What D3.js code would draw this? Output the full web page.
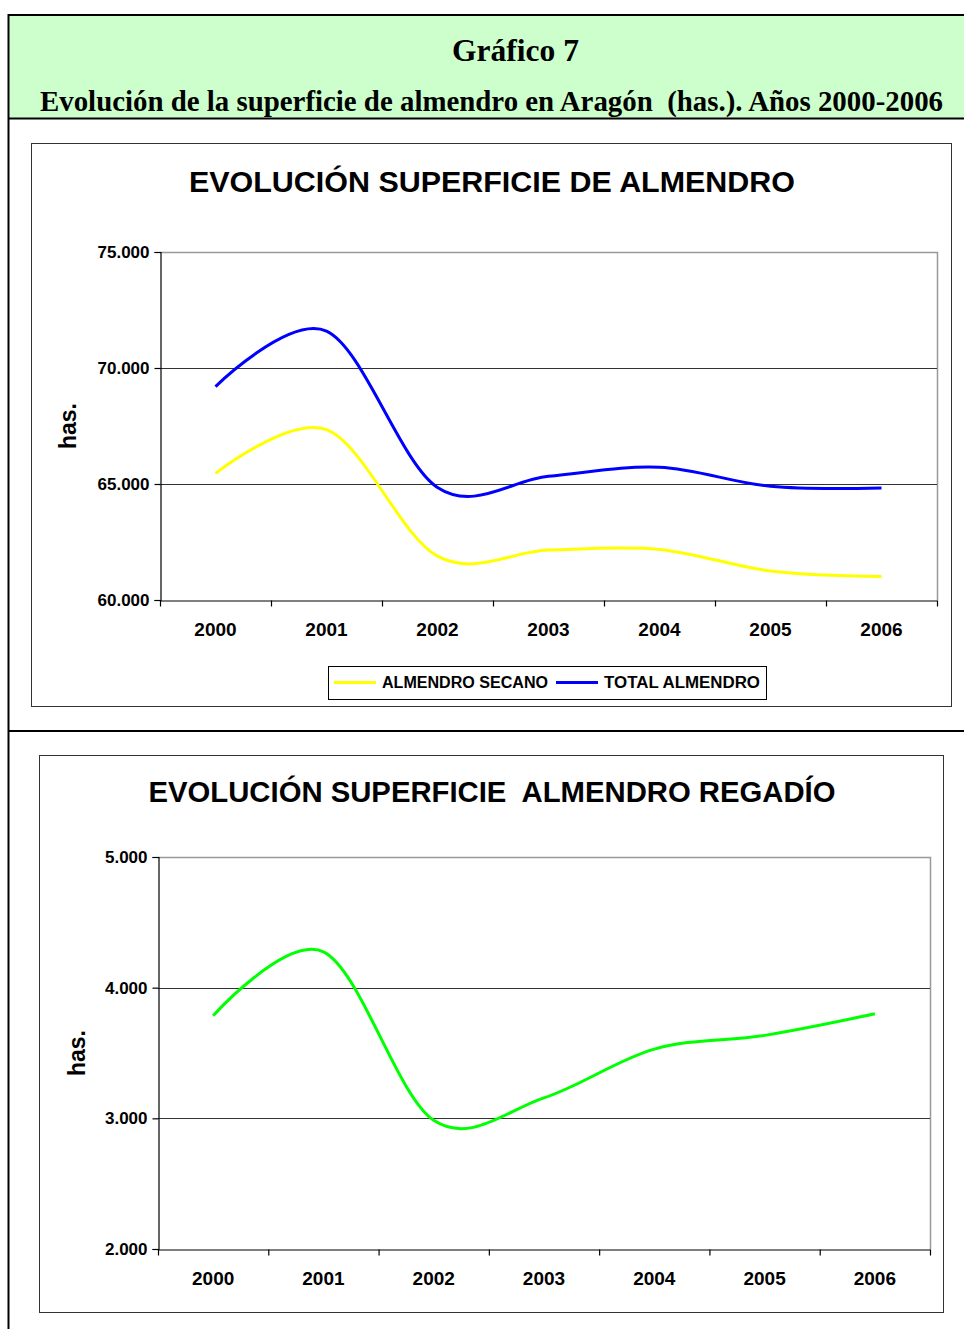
<!DOCTYPE html>
<html>
<head>
<meta charset="utf-8">
<script src="https://cdnjs.cloudflare.com/ajax/libs/d3/7.8.5/d3.min.js"></script>
<style>
  body { margin: 0; background: #fff; }
  svg text { font-family: "Liberation Sans", Arial, sans-serif; font-weight: bold; white-space: pre; }
</style>
</head>
<body>
<div id="chart"></div>
<script>
// Data (hectares)
var years = ["2000", "2001", "2002", "2003", "2004", "2005", "2006"];
var secano = [65460, 67340, 61890, 62150, 62180, 61250, 61010];
var total = [69200, 71590, 64850, 65330, 65720, 64900, 64830];
var regadio = [3785, 4274, 2985, 3157, 3530, 3635, 3800];

var topTicks = [60000, 65000, 70000, 75000];
var bottomTicks = [2000, 3000, 4000, 5000];

var W = 964, H = 1329;
var fmt = function (v) { return d3.format(",")(v).replace(/,/g, "."); };

var svg = d3.select("#chart").append("svg")
    .attr("width", W)
    .attr("height", H);

// Header band
svg.append("rect")
    .attr("x", 8).attr("y", 15)
    .attr("width", W - 8).attr("height", 103)
    .attr("fill", "#CCFFCC");

svg.append("text")
    .attr("x", 452).attr("y", 61)
    .attr("textLength", 127)
    .attr("lengthAdjust", "spacingAndGlyphs")
    .style("font-family", "'Liberation Serif', 'Times New Roman', serif")
    .style("font-size", "32px")
    .text("Gráfico 7");

svg.append("text")
    .attr("x", 40).attr("y", 111)
    .attr("textLength", 903)
    .attr("lengthAdjust", "spacingAndGlyphs")
    .style("font-family", "'Liberation Serif', 'Times New Roman', serif")
    .style("font-size", "29px")
    .text("Evolución de la superficie de almendro en Aragón  (has.). Años 2000-2006");

// Outer frame lines
svg.append("line").attr("x1", 8).attr("x2", W).attr("y1", 15).attr("y2", 15)
    .attr("stroke", "#000").attr("stroke-width", 2);
svg.append("line").attr("x1", 8).attr("x2", W).attr("y1", 118.5).attr("y2", 118.5)
    .attr("stroke", "#000").attr("stroke-width", 2);
svg.append("line").attr("x1", 8).attr("x2", W).attr("y1", 731).attr("y2", 731)
    .attr("stroke", "#000").attr("stroke-width", 2);
svg.append("line").attr("x1", 8.5).attr("x2", 8.5).attr("y1", 14).attr("y2", H)
    .attr("stroke", "#000").attr("stroke-width", 2);

var drawChart = function (cfg) {
    var g = svg.append("g");

    // Chart frame
    g.append("rect")
        .attr("x", cfg.box[0] + 0.5).attr("y", cfg.box[1] + 0.5)
        .attr("width", cfg.box[2]).attr("height", cfg.box[3])
        .attr("fill", "#fff").attr("stroke", "#333").attr("stroke-width", 1);

    g.append("text")
        .attr("x", cfg.titleX).attr("y", cfg.titleY)
        .attr("text-anchor", "middle")
        .style("font-size", "29px")
        .attr("textLength", cfg.titleLen)
        .attr("lengthAdjust", "spacingAndGlyphs")
        .text(cfg.title);

    var p = cfg.plot; // x0, y0, x1, y1
    var x = d3.scaleBand().domain(years).range([p[0], p[2]]);
    var y = d3.scaleLinear().domain(cfg.domain).range([p[3], p[1]]);

    // plot border (top and right)
    g.append("path")
        .attr("d", "M" + p[0] + "," + (p[1] + 0.5) + "H" + (p[2] + 0.5) + "V" + p[3])
        .attr("fill", "none").attr("stroke", "#999").attr("stroke-width", 1.5);

    // gridlines
    g.selectAll(".grid")
        .data(cfg.ticks.slice(1, -1))
        .enter().append("line")
        .attr("x1", p[0]).attr("x2", p[2])
        .attr("y1", function (d) { return Math.round(y(d)) + 0.5; })
        .attr("y2", function (d) { return Math.round(y(d)) + 0.5; })
        .attr("stroke", "#333").attr("stroke-width", 1.2);

    // y axis
    var yAxis = d3.axisLeft(y).tickValues(cfg.ticks).tickSize(6).tickPadding(5).tickFormat(fmt);
    var ya = g.append("g").attr("transform", "translate(" + (p[0] + 0.5) + ",0)").call(yAxis);
    ya.selectAll("text").style("font-size", "17px").attr("fill", "#000");
    ya.selectAll("line, path").attr("stroke", "#000").attr("stroke-width", 1.2);

    // x axis: ticks at category boundaries
    var xAxis = d3.axisBottom(x).tickSize(0).tickPadding(22);
    var xa = g.append("g").attr("transform", "translate(0," + (p[3] + 0.5) + ")").call(xAxis);
    xa.selectAll("text").style("font-size", "19px").attr("fill", "#000");
    xa.select(".domain").attr("stroke", "#000").attr("stroke-width", 1.2);
    var bounds = years.map(function (d) { return x(d); }).concat([p[2]]);
    xa.selectAll(".bound")
        .data(bounds)
        .enter().append("line")
        .attr("x1", function (d) { return d + 0.5; })
        .attr("x2", function (d) { return d + 0.5; })
        .attr("y1", 0).attr("y2", 6)
        .attr("stroke", "#000").attr("stroke-width", 1.2);

    g.append("text")
        .attr("transform", "translate(" + cfg.labelX + "," + ((p[1] + p[3]) / 2) + ") rotate(-90)")
        .attr("text-anchor", "middle")
        .attr("dy", "0.35em")
        .style("font-size", "23px")
        .text("has.");

    var line = d3.line()
        .x(function (d, i) { return x(years[i]) + x.bandwidth() / 2; })
        .y(function (d) { return y(d); })
        .curve(d3.curveCardinal.tension(0));

    cfg.series.forEach(function (s) {
        g.append("path")
            .datum(s.values)
            .attr("d", line)
            .attr("fill", "none")
            .attr("stroke", s.color)
            .attr("stroke-width", 3);
    });

    if (cfg.legend) {
        var L = cfg.legend;
        var lg = g.append("g");
        lg.append("rect")
            .attr("x", L.x + 0.5).attr("y", L.y + 0.5)
            .attr("width", L.w).attr("height", L.h)
            .attr("fill", "#fff").attr("stroke", "#000").attr("stroke-width", 1);
        var offs = [6, 228];
        var lens = [166, 156];
        cfg.series.forEach(function (s, i) {
            var lx = L.x + offs[i];
            lg.append("line")
                .attr("x1", lx).attr("x2", lx + 42)
                .attr("y1", L.y + L.h / 2).attr("y2", L.y + L.h / 2)
                .attr("stroke", s.color).attr("stroke-width", 3);
            lg.append("text")
                .attr("x", lx + 48).attr("y", L.y + L.h / 2)
                .attr("dy", "0.35em")
                .attr("textLength", lens[i])
                .attr("lengthAdjust", "spacingAndGlyphs")
                .style("font-size", "16px")
                .text(s.name);
        });
    }
};

drawChart({
    box: [31, 143, 920, 563],
    title: "EVOLUCIÓN SUPERFICIE DE ALMENDRO",
    titleX: 492, titleY: 192, titleLen: 606,
    plot: [160, 252, 937, 600],
    domain: [60000, 75000],
    ticks: topTicks,
    labelX: 68,
    series: [
        {name: "ALMENDRO SECANO", values: secano, color: "#FFFF00"},
        {name: "TOTAL ALMENDRO", values: total, color: "#0000FF"}
    ],
    legend: {x: 328, y: 666, w: 438, h: 33}
});

drawChart({
    box: [39, 755, 904, 557],
    title: "EVOLUCIÓN SUPERFICIE  ALMENDRO REGADÍO",
    titleX: 492, titleY: 802, titleLen: 687,
    plot: [158, 857, 930, 1249],
    domain: [2000, 5000],
    ticks: bottomTicks,
    labelX: 77,
    series: [
        {name: "ALMENDRO REGADÍO", values: regadio, color: "#00FF00"}
    ],
    legend: null
});
</script>
</body>
</html>
